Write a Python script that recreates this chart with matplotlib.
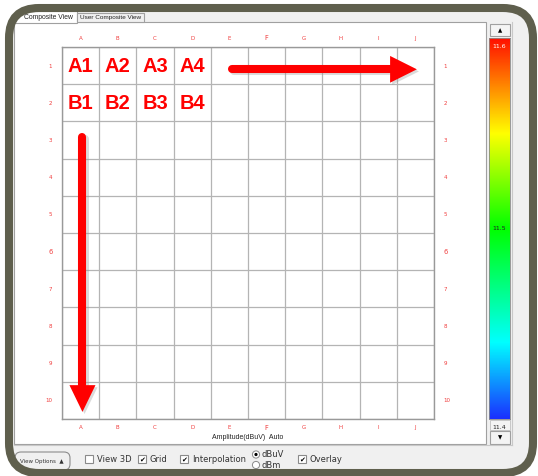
import numpy as np
import matplotlib
matplotlib.use("Agg")
from matplotlib import pyplot as plt
from matplotlib import patheffects as pe
from matplotlib.patches import Rectangle, FancyBboxPatch, Circle
from matplotlib.colors import LinearSegmentedColormap

W, H = 538, 476

col_labels = ['A', 'B', 'C', 'D', 'E', 'F', 'G', 'H', 'I', 'J']
row_labels = ['1', '2', '3', '4', '5', '6', '7', '8', '9', '10']
cell_names = ['A1', 'A2', 'A3', 'A4', 'B1', 'B2', 'B3', 'B4']
cell_cols = [0, 1, 2, 3, 0, 1, 2, 3]
cell_rows = [0, 0, 0, 0, 1, 1, 1, 1]

# arrows in grid units (col, row)
arrow_tail = [(4.57, 0.60), (0.55, 2.42)]
arrow_base = [(8.82, 0.60), (0.55, 9.09)]
arrow_tip = [(9.54, 0.60), (0.55, 9.81)]
arrow_half = [0.36, 0.35]

cbar_min, cbar_max = 11.4, 11.6
cbar_ticks = [11.4, 11.5, 11.6]
cbar_stops = [0.0, 0.2, 0.5, 0.75, 1.0]
cbar_colors = ['#1a30ff', '#00ffff', '#00ff00', '#ffff00', '#ff1000']

options = ['View 3D', 'Grid', 'Interpolation', 'Overlay']
option_checked = [False, True, True, True]
option_x = [85, 138, 180, 298]
units = ['dBuV', 'dBm']
unit_selected = [True, False]

RED = '#ff0000'
LBL = '#f03c3c'
FRAME = '#5f5f4d'

fig = plt.figure(figsize=(W / 100, H / 100), dpi=100)
fig.patch.set_facecolor('white')

# ---- window chrome (pixel coordinates) ----
bg = fig.add_axes([0, 0, 1, 1], zorder=0)
bg.set_xlim(0, W)
bg.set_ylim(H, 0)
bg.axis('off')

shape = FancyBboxPatch((9, 8), 524, 465, boxstyle='round,pad=0,rounding_size=30',
                       facecolor='#f0f0f0', edgecolor='none')
bg.add_patch(shape)

chrome = [
    Rectangle((14, 22), 472, 422, facecolor='white', edgecolor='#a0a0a0', lw=0.8),
    Rectangle((3, 11), 74, 12, facecolor='white', edgecolor='#a0a0a0', lw=0.8),
    Rectangle((77, 13), 67, 9, facecolor='#f0f0f0', edgecolor='#a0a0a0', lw=0.8),
]
for p in chrome:
    bg.add_patch(p)
    p.set_clip_path(shape)
bg.plot([14, 512], [444.5, 444.5], color='#c8c8c8', lw=0.8)
bg.plot([512, 512], [22, 445], color='#c8c8c8', lw=0.8)
t = bg.text(73, 17.5, 'Composite View', fontsize=4.9, family='Liberation Sans',
            ha='right', va='center', color='#222222')
t.set_clip_path(shape)
bg.text(110.5, 17.5, 'User Composite View', fontsize=4.6, family='Liberation Sans',
        ha='center', va='center', color='#222222')

# colour bar buttons
bg.add_patch(Rectangle((490, 24), 20, 12, facecolor='#f4f4f4', edgecolor='#a0a0a0', lw=0.8))
bg.text(500, 30.5, '▲', fontsize=4, ha='center', va='center')
bg.add_patch(Rectangle((490, 420), 20, 10, facecolor='#f4f4f4', edgecolor='#c0c0c0', lw=0.6))
bg.add_patch(Rectangle((490, 431), 20, 13, facecolor='#f4f4f4', edgecolor='#a0a0a0', lw=0.8))
bg.text(500, 438, '▼', fontsize=4, ha='center', va='center')

bg.text(248, 437.5, 'Amplitude(dBuV)  Auto', fontsize=5, family='Liberation Sans',
        ha='center', va='center', color='#222222')

# bottom controls
btn = FancyBboxPatch((15, 452), 55, 18, boxstyle='round,pad=0,rounding_size=6',
                     facecolor='#f0f0f0', edgecolor='#8c8c8c', lw=0.8)
bg.add_patch(btn)
bg.text(42, 461, 'View Options  ▲', fontsize=4, ha='center', va='center', color='#333333')
for name, checked, x in zip(options, option_checked, option_x):
    bg.add_patch(Rectangle((x, 455), 8, 8, facecolor='white', edgecolor='#8a8a8a', lw=0.8))
    if checked:
        bg.text(x + 4, 459.3, '✔', fontsize=5, ha='center', va='center', color='black')
    bg.text(x + 12, 459, name, fontsize=6, family='DejaVu Sans', ha='left', va='center',
            color='#333333')
for i, (u, sel) in enumerate(zip(units, unit_selected)):
    y = 454.5 + 10.5 * i
    bg.add_patch(Circle((256, y), 3.6, facecolor='white', edgecolor='#8a8a8a', lw=0.7))
    if sel:
        bg.add_patch(Circle((256, y), 1.6, facecolor='black'))
    bg.text(262, y, u, fontsize=6, ha='left', va='center', color='#333333')

# frame on top
frame = FancyBboxPatch((9, 8), 524, 465, boxstyle='round,pad=0,rounding_size=30',
                       facecolor='none', edgecolor=FRAME, lw=5.8, zorder=5)
bg.add_patch(frame)

# ---- grid chart ----
left, right, top, bottom = 62, 434, 47, 419
ax = fig.add_axes([left / W, 1 - bottom / H, (right - left) / W, (bottom - top) / H], zorder=2)
ax.set_xlim(0, len(col_labels))
ax.set_ylim(len(row_labels), 0)
ax.set_facecolor('white')
ax.set_xticks(np.arange(len(col_labels)) + 0.5)
ax.set_xticklabels(col_labels)
ax.set_yticks(np.arange(len(row_labels)) + 0.5)
ax.set_yticklabels(row_labels)
ax.set_xticks(np.arange(len(col_labels) + 1), minor=True)
ax.set_yticks(np.arange(len(row_labels) + 1), minor=True)
ax.tick_params(which='both', length=0)
ax.tick_params(axis='x', labeltop=True, labelbottom=True, labelsize=4, labelcolor=LBL, pad=4)
ax.tick_params(axis='y', labelleft=True, labelright=True, labelsize=4, labelcolor=LBL, pad=7)
for lab in ax.get_xticklabels() + ax.get_yticklabels():
    if lab.get_text() in ('F', '6'):
        lab.set_fontsize(4.8)
ax.grid(which='minor', color='#b4b4b4', lw=0.9)
for s in ax.spines.values():
    s.set_color('#999999')
    s.set_linewidth(1.0)

for name, c, r in zip(cell_names, cell_cols, cell_rows):
    ax.text(c + 0.5, r + 0.52, name, fontsize=14.5, fontweight='bold', family='Liberation Sans',
            color=RED, ha='center', va='center')

shadow = [pe.SimplePatchShadow(offset=(1.5, -1.5), shadow_rgbFace='#999999', alpha=0.35), pe.Normal()]
lshadow = [pe.SimpleLineShadow(offset=(1.5, -1.5), shadow_color='#999999', alpha=0.35), pe.Normal()]
for (tx, ty), (bx, by), (px, py), hw in zip(arrow_tail, arrow_base, arrow_tip, arrow_half):
    ax.plot([tx, bx], [ty, by], color=RED, lw=5.8, solid_capstyle='round', zorder=4,
            path_effects=lshadow)
    dx, dy = px - bx, py - by
    n = np.hypot(dx, dy)
    nx, ny = -dy / n * hw, dx / n * hw
    ax.fill([bx + nx, px, bx - nx], [by + ny, py, by - ny], color=RED, lw=0, zorder=4,
            path_effects=shadow)

# ---- colour bar ----
cax = fig.add_axes([489 / W, 1 - 419 / H, 21 / W, (419 - 38) / H], zorder=2)
cmap = LinearSegmentedColormap.from_list('amp', list(zip(cbar_stops, cbar_colors)))
grad = np.linspace(cbar_min, cbar_max, 256).reshape(-1, 1)
cax.imshow(grad, cmap=cmap, aspect='auto', origin='lower',
           extent=[0, 1, cbar_min, cbar_max], vmin=cbar_min, vmax=cbar_max)
cax.set_xticks([])
cax.set_yticks([])
for s in cax.spines.values():
    s.set_color('#8a8a8a')
    s.set_linewidth(0.6)
cax.text(0.5, cbar_ticks[2] - 0.003, '11.6', fontsize=4.5, color='white', ha='center', va='top')
cax.text(0.5, cbar_ticks[1], '11.5', fontsize=4.5, color='#222222', ha='center', va='center')
cax.text(0.5, cbar_ticks[0] - 0.003, '11.4', fontsize=4.5, color='#222222', ha='center', va='top',
         clip_on=False)

fig.savefig('out.png', dpi=100)
